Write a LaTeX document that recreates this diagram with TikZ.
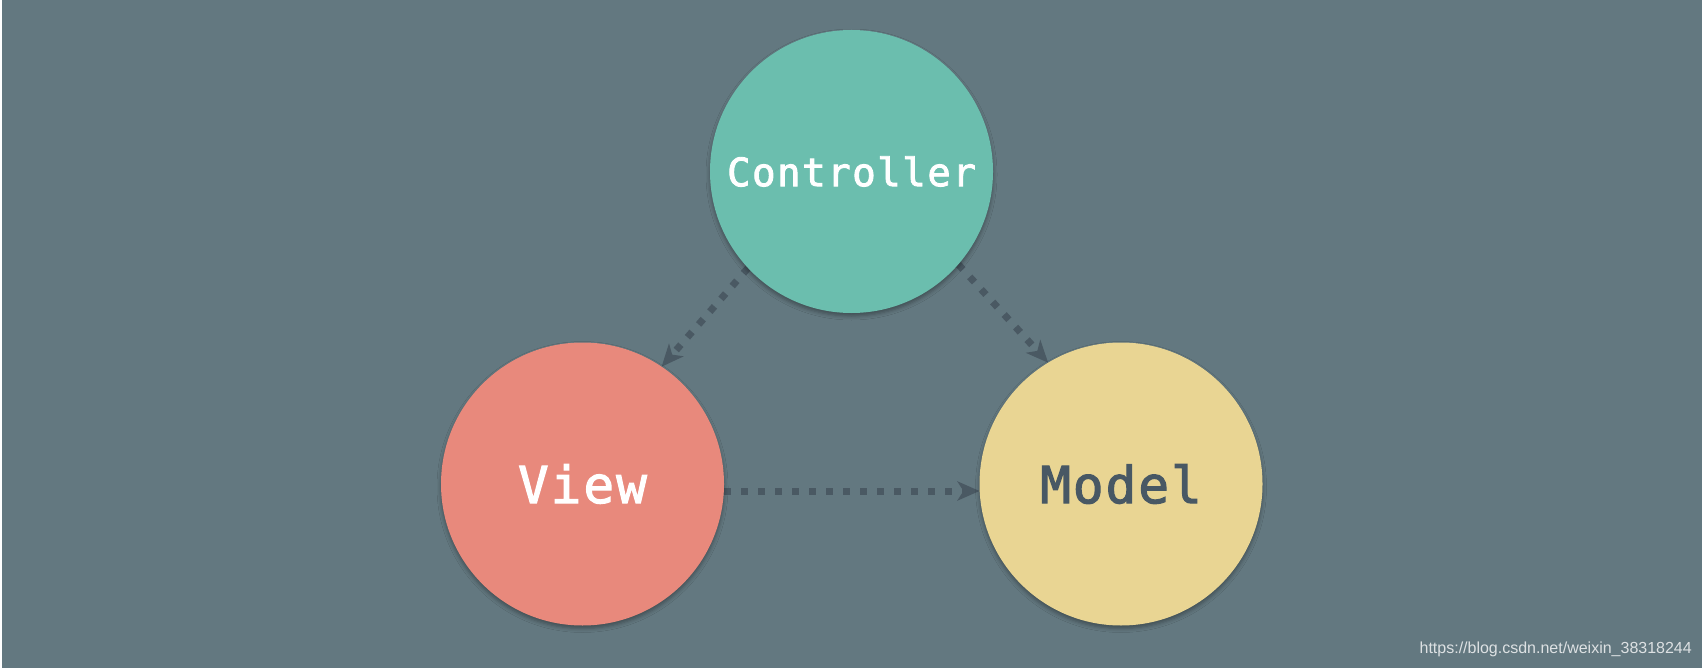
\documentclass[tikz,border=0pt]{standalone}
\usepackage{fontspec}
\setmainfont{Liberation Sans}
\newfontfamily\monofnt{DejaVu Sans Mono}[LetterSpace=4,FakeBold=2.2]
\usetikzlibrary{arrows.meta,shadows.blur}
\definecolor{bgc}{RGB}{99,120,128}
\definecolor{ctrlc}{RGB}{107,190,174}
\definecolor{viewc}{RGB}{232,137,124}
\definecolor{modelc}{RGB}{233,213,147}
\definecolor{arrc}{RGB}{74,89,99}
\definecolor{darktext}{RGB}{72,88,100}
\pgfdeclarelayer{bglayer}
\pgfdeclarelayer{arrlayer}
\pgfsetlayers{bglayer,arrlayer,main}
\tikzset{
  ball/.style={circle, minimum size=283pt, inner sep=0pt, outer sep=0pt,
    blur shadow={shadow xshift=0pt, shadow yshift=-3pt, shadow blur radius=4pt, shadow opacity=35}},
  flow/.style={draw=arrc, line width=7pt, dash pattern=on 7pt off 10pt,
    -{Stealth[length=22pt,width=19pt,inset=6pt]}},
}
\begin{document}
\begin{tikzpicture}[x=1pt,y=1pt]
\useasboundingbox (0,0) rectangle (1702,-668);
\node[ball, fill=ctrlc, text=white] (ctrl) at (851.5,-171.5)
  {\monofnt\fontsize{39}{44}\selectfont Controller};
\node[ball, fill=viewc, text=white] (view) at (582.5,-484)
  {\monofnt\fontsize{51}{56}\selectfont View};
\node[ball, fill=modelc, text=darktext] (model) at (1121,-484)
  {\monofnt\fontsize{51}{56}\selectfont Model};
\node[anchor=base east, text=white!78!bgc, inner sep=0pt] (wm) at (1692,-653)
  {\fontsize{16}{18}\selectfont https://blog.csdn.net/weixin\_38318244};
\begin{pgfonlayer}{bglayer}
  \fill[bgc] (0,0) rectangle (1702,-668);
  \fill[white] (0,0) rectangle (2,-668);
\end{pgfonlayer}
\begin{pgfonlayer}{arrlayer}
  \draw[flow] (ctrl.223) -- (view.56);
  \draw[flow] (ctrl.-41) -- (model.121);
  \draw[flow] ([yshift=-7pt]view.east) -- ([yshift=-7pt]model.west);
\end{pgfonlayer}
\end{tikzpicture}
\end{document}
